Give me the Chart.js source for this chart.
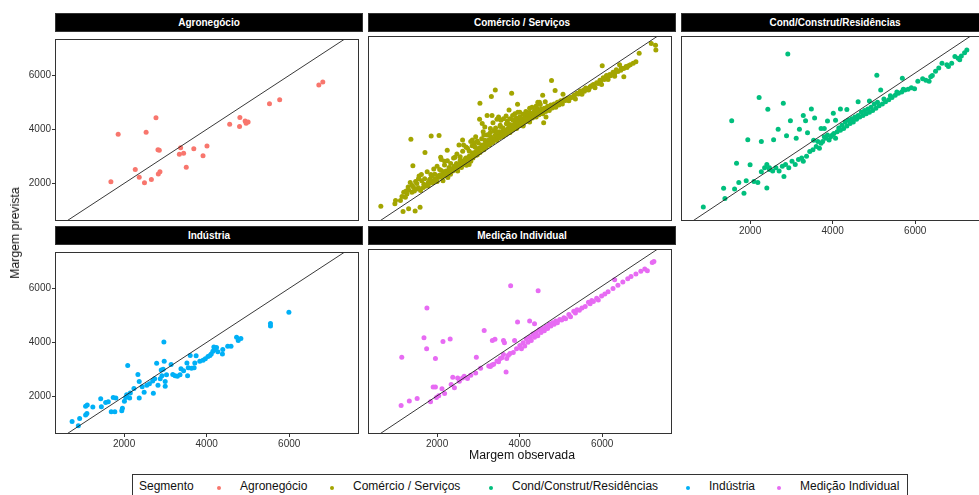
<!DOCTYPE html>
<html>
<head>
<meta charset="utf-8">
<script src="https://cdn.jsdelivr.net/npm/chart.js@4.4.1/dist/chart.umd.min.js"></script>
<style>
  html, body { margin:0; padding:0; background:#fff; }
  body { width:979px; height:495px; overflow:hidden; position:relative;
         font-family:"Liberation Sans", Arial, sans-serif; }
  canvas.painel { position:absolute; }
  .faixa { position:absolute; box-sizing:border-box; width:308px; height:19px;
           background:#000; border:1px solid #333; color:#fff; font-weight:bold;
           font-size:10px; line-height:17px; text-align:center; white-space:nowrap; }
  .titulo { position:absolute; font-size:12.3px; color:#111; white-space:nowrap; }
  #tituloY { left:15px; top:233px; transform:translate(-50%,-50%) rotate(-90deg); }
  #tituloX { left:522px; top:455px; transform:translate(-50%,-50%); }
  #legenda { position:absolute; left:132px; top:474px; width:776px; height:40px;
             box-sizing:border-box; border:1px solid #333; background:#fff; }
  #legenda span { position:absolute; top:4px; font-size:12px; color:#111; white-space:nowrap; }
  #legenda i { position:absolute; top:11px; width:4px; height:4px; border-radius:50%; }
</style>
</head>
<body>
<div id="area"></div>
<div class="titulo" id="tituloY">Margem prevista</div>
<div class="titulo" id="tituloX">Margem observada</div>
<div id="legenda"></div>
<script>
// Segments (facets) and their colours
const segmentos = ['Agronegócio', 'Comércio / Serviços', 'Cond/Construt/Residências', 'Indústria', 'Medição Individual'];
const cores = ['#F8766D', '#A3A500', '#00BF7D', '#00B0F6', '#E76BF3'];
const tituloLegenda = 'Segmento';

// Shared axis ticks and limits (observed on x, predicted on y)
const ticksMargem = [2000, 4000, 6000];
const limitesObservada = [327, 7690];
const limitesPrevista = [610, 7345];
// Reference line: predicted = observed
const diagonal = [[0, 0], [8000, 8000]];

// [margem observada, margem prevista] per client, by segment
const agronegocio = [
  [1681,2060],[1857,3821],[2271,2512],[2367,2226],[2494,2024],[2534,3893],[2661,2143],[2773,4429],
  [2821,3250],[2853,3226],[2829,2345],[2869,2429],[3370,3321],[3339,3083],[3442,3119],[3506,2595],
  [3689,3286],[3912,3024],[4008,3381],[4558,4190],[4805,4440],[4797,4107],[4932,4310],[4956,4226],
  [5004,4274],[5522,4952],[5769,5095],[6717,5643],[6813,5750]
];

const comercioServicos = [
  [638,1143],[978,1238],[994,1357],[1113,1357],[1176,952],[1311,1060],[1469,976],[1588,1107],
  [1192,1655],[1271,1595],[1311,1738],[1350,2012],[1414,2619],[1366,3583],[1430,1833],[1509,1976],
  [1564,2250],[1628,2071],[1707,1893],[1707,3107],[1786,1893],[1826,2131],[1865,2250],[1905,2012],
  [1945,2310],[1857,3702],[2048,3726],[2024,2250],[2063,2488],[2087,2929],[2103,2845],[2143,2071],
  [2182,2786],[2246,3190],[2261,2190],[2325,2310],[2380,2429],[2436,2929],[2499,2548],[2531,3381],
  [2578,2726],[2618,3560],[2642,3381],[2673,2845],[2737,2845],[2776,2667],[2816,3500],[2855,3560],
  [2935,3679],[2974,3524],[3030,4310],[3038,4893],[3093,4155],[3117,3857],[3156,4036],[3212,3738],
  [3212,4452],[3291,3976],[3315,5143],[3331,4452],[3354,4190],[3410,5381],[3418,4000],[3450,4310],
  [3489,4393],[3513,3857],[3545,4274],[3608,4333],[3671,4429],[3703,4250],[3743,4655],[3806,5262],
  [3830,4452],[3885,4512],[3925,4274],[3949,4857],[3956,4571],[4004,4190],[4083,4095],[4107,4333],
  [4162,4512],[4202,4452],[4242,4571],[4360,4631],[4440,4929],[4416,4714],[4558,5190],[4582,4190],
  [4638,4393],[4772,5726],[4859,5357],[5050,5226],[5018,4929],
  [6000,6262],[6420,6298],[6523,5857],[6634,6262],[6816,6405],[6895,6714],[7188,7071],[7291,7012],[7299,6833],
  [1232,1476],[1390,1655],[1509,1774],[1667,1833],[1786,2012],[1905,2071],[2024,2190],[2143,2310],
  [2222,2429],[2301,2488],[2420,2607],[2539,2667],[2618,2786],[2697,2905],[2776,2964],[2855,3083],
  [2935,3143],[3014,3262],[3093,3381],[3172,3440],[3252,3560],[3331,3619],[3410,3738],[3489,3798],
  [3568,3857],[3648,3917],[3727,4000],[3806,4095],[3885,4155],[3964,4238],[4044,4310],[4123,4393],
  [4202,4429],[4281,4512],[4360,4571],[4440,4631],[4519,4690],[4598,4714],[4677,4786],[4757,4833],
  [4836,4869],[4915,4929],[4994,4988],[5073,5024],[5153,5071],[5232,5107],[5311,5167],[5390,5262],
  [5469,5345],[5549,5381],[5628,5429],[5707,5500],[5786,5583],[5865,5643],[5944,5738],[6024,5821],
  [6103,5905],[6182,5940],[6262,6024],[6341,6119],[6460,6179],[6578,6238],
  [2737,3262],[2895,3440],[3133,3738],[3291,3833],[3529,4095],[3766,4333],[4004,4571],[4242,4714],[4479,4929],
  [2499,2429],[2657,2667],[2816,2786],[2974,3024],[3133,3202],[3291,3440],[3450,3560],[3608,3738],
  [3766,3833],[3925,3976],[4083,4071],[4242,4214],[4400,4393],[4558,4512],[4717,4631],[4875,4750],
  [5034,4869],[5192,4988],[5351,5048],[5509,5226],[5667,5381],[5826,5464],[5984,5583],[6142,5762],[6301,5881],
  [1450,1700],[1550,1820],[1600,1720],[1680,1950],[1740,1880],[1820,2100],[1880,1990],[1950,2150],
  [2000,2050],[2060,2280],[2110,2200],[2170,2400],[2200,2260],[2260,2350],[2290,2560],[2340,2420],
  [2390,2540],[2450,2480],[2470,2700],[2520,2600],[2560,2820],[2590,2560],[2630,2700],[2680,2790],
  [2710,2640],[2750,2900],[2790,2860],[2830,2950],[2870,2900],[2900,3060],[2950,3000],[2990,3180],
  [3040,3100],[3070,3300],[3110,3250],[3150,3350],[3190,3300],[3230,3420],[3270,3380],[3310,3520],
  [3350,3470],[3390,3600],[3430,3550],[3470,3680],[3510,3640],[3550,3740],[3590,3690],[3630,3800],
  [3670,3770],[3710,3880],[3750,3840],[3790,3960],[3830,3920],[3870,4040],[3910,4000],[3950,4120],
  [3990,4080],[4030,4200],[4070,4160],[4110,4270],[4150,4230],[4190,4340],[4230,4300],[4270,4400],
  [4310,4360],[4350,4470],[4390,4430],[4430,4520],[4470,4480],[4510,4580],[4550,4540],[4590,4640],
  [4630,4600],[4670,4700],[4710,4660],[4750,4760],[4790,4720],[4830,4800],[4870,4780],[4910,4850],
  [4950,4830],[4990,4900],[5030,4950],[5110,5000],[5170,5040],[5260,5110],[5330,5200],[5420,5230],
  [5480,5300],[5570,5330],[5600,5450],[5680,5420],[5740,5530],[5810,5500],[5900,5620],[5960,5690],
  [6050,5760],[6120,5840],[6200,5900],[6300,5960],[6380,6050],[6450,6100],[6520,6160],[6600,6200],
  [6680,6300],[6750,6350],
  [1150,1500],[1250,1700],[1300,1850],[1400,1900],[1480,2050],[1550,2150],[1620,2300],[1700,2150],
  [1760,2400],[1850,2300],[1920,2500],[2000,2600],[2100,2450],[2180,2650],[2250,2800],[2330,2700],
  [2400,2900],[2480,3050],[2560,2950],[2620,3150],[2700,3300],[2780,3150],[2850,3350],[2920,3300],
  [3000,3450],[3080,3600],[3160,3550],[3240,3750],[3300,3680],[3380,3900],[3460,3850],[3530,4050],
  [3600,4000],[3680,4150],[3760,4120],[3840,4280],[3920,4350],[4000,4400],[4080,4500],[4150,4600],
  [4300,4750],[4400,4800],[4500,4850],[4620,4950]
];

const condConstrutResidencias = [
  [867,1119],[1359,1798],[1391,1429],[1555,4262],[1625,1774],[1672,2714],[1727,2012],[1852,1619],
  [1906,2071],[1945,3571],[2000,2655],[2094,2048],[2219,5107],[2273,3500],[2188,2012],[2406,1810],
  [2430,4679],[2469,2548],[2570,3571],[2680,3952],[2805,4893],[2820,2226],[2883,3714],[2914,6690],
  [2977,4262],[3117,3619],[3195,3952],[3289,4452],[3344,4262],[3391,3821],[3484,4690],[3563,4357],
  [3539,3548],[3719,3976],[3797,3976],[3875,4250],[4016,4536],[4070,4274],[4188,4690],[4344,4667],
  [4617,4952],[4891,4976],[5070,5917],[5164,5381],[5688,5810],[5984,5429],
  [2273,2405],[2352,2548],[2406,2667],[2469,2488],[2547,2429],[2625,2548],[2703,2429],[2781,2607],
  [2859,2667],[2938,2548],[3016,2786],[3094,2667],[3172,2845],[3250,2905],[3289,2786],[3367,2964],
  [3445,3143],[3523,3202],[3602,3321],[3680,3262],[3758,3500],[3836,3619],[3914,3560],[3992,3738],
  [4070,3619],[4109,3857],[4188,3917],[4266,3976],[4344,4071],[4422,4155],[4500,4214],[4578,4310],
  [4656,4393],[4734,4452],[4813,4512],[4891,4571],[4969,4631],[5047,4714],[5125,4810],[5203,4869],
  [5281,4952],[5359,5024],[5438,5107],[5516,5190],[5594,5262],[5672,5310],[5750,5381],[5828,5405],
  [5906,5464],[6180,5786],[6258,5738],[6336,5702],[6375,5857],[6492,6060],[6570,6179],[6648,6357],
  [6805,6238],[6883,6357],[6961,6595],[7039,6536],[7117,6619],[7195,6738],[7250,6833],
  [3641,3500],[3719,3440],[3797,3679],[3875,3738],[3953,3679],[4031,3798],[4148,4000],[4227,4095],
  [4305,4214],[4383,4274],[4461,4333],[4539,4393],[4617,4452],[4695,4571],[4773,4631],[4852,4690],
  [4930,4750],[5008,4869],[5086,4929],[5242,5048],[5398,5167],[5555,5310],[5711,5405],[6063,5702],
  [6414,5905],[6766,6298],[7078,6476]
];

const industria = [
  [741,1077],[892,912],[924,1184],[1068,1314],[1068,1633],[1108,1681],[1100,1373],[1243,1610],
  [1434,1917],[1450,1621],[1554,1775],[1618,1799],[1689,1432],[1737,1965],[1777,1432],[1801,1941],
  [1960,1562],[1944,1468],[2008,1823],[2040,1965],[2088,3148],[2064,2059],[2135,1941],[2151,2130],
  [2239,2296],[2335,2816],[2367,1941],[2367,2556],[2438,2355],[2486,2154],[2550,2414],[2614,2473],
  [2693,2568],[2709,2118],[2741,2651],[2789,3230],[2821,2414],[2876,2651],[2900,2982],[2916,2769],
  [2948,3006],[2964,4011],[2972,3301],[2996,2556],[2996,2379],[3028,2804],[3139,3183],[3179,2816],
  [3235,2769],[3291,2745],[3355,2804],[3378,3029],[3442,2946],[3522,3242],[3538,2769],[3554,3065],
  [3602,3514],[3633,3041],[3697,3065],[3713,3242],[3745,3502],[3833,3301],[3912,3337],[3968,3396],
  [4032,3479],[4080,3514],[4112,3573],[4151,3668],[4175,3834],[4207,3739],[4239,3810],[4271,3656],
  [4390,3739],[4382,3573],[4510,3857],[4590,3857],[4725,4189],[4765,4070],[4829,4141],[5546,4697],
  [5546,4603],[5992,5111]
];

const medicaoIndividual = [
  [1129,1645],[1327,1811],[1517,1905],[1145,3408],[1683,4118],[1747,3715],[1754,5194],[1960,3360],
  [2143,3976],[2317,4070],[2951,3408],[3141,4378],[3339,4011],[3402,4058],[3608,4011],[3632,3928],
  [3782,6010],[3877,4011],[3949,4685],[4242,4721],[4360,4626],[4448,5821],[3671,2864],
  [1842,1787],[1905,2319],[1960,2319],[1984,1941],[2040,2000],[2119,2260],[2182,2083],[2341,2414],
  [2380,2674],[2420,2296],[2499,2651],[2539,2532],[2618,2651],[2657,2710],[2737,2627],[2816,2745],
  [2935,2828],[3054,3006],[3252,3088],[3331,3124],[3450,3266],[3529,3360],[3608,3502],[3727,3479],
  [3846,3573],[3925,3715],[4004,3834],[4083,3928],[4162,4070],[4242,4129],[4321,4248],[4400,4307],
  [4479,4401],[4558,4449],[4638,4520],[4717,4603],[4796,4662],[4875,4721],[4970,4780],[5073,4839],
  [5192,4958],[5311,5076],[5390,5135],[5509,5194],[5667,5407],[5747,5466],[5865,5549],[5984,5632],
  [6142,5786],[6261,5904],[6301,6223],[6380,6022],[6499,6141],[6618,6259],[6697,6342],[6816,6436],
  [6935,6531],[7030,6614],[7093,6555],[7212,6850],[7252,6886],
  [4044,3715],[4123,3810],[4202,3952],[4281,4011],[4360,4129],[4440,4189],[4519,4307],[4598,4366],
  [4677,4449],[4757,4543],[4836,4603],[4915,4662],[5018,4756],[5113,4804],[5232,4875],[5351,5017],
  [5446,5111],[5588,5253],[5707,5348],[5786,5431],[5905,5490],[6063,5703],
  [3291,3065],[3370,3148],[3489,3242],[3568,3384],[3687,3360],[3766,3538]
];

const dadosSegmento = [agronegocio, comercioServicos, condConstrutResidencias, industria, medicaoIndividual];

// Facet grid: plot-area position and which axes carry tick labels
const LARGURA = 308, ALTURA = 189, EIXO_Y = 54, EIXO_X = 20;
const grade = [
  { left: 55,  top: 32,  tickX: false, tickY: true  },
  { left: 368, top: 32,  tickX: false, tickY: false },
  { left: 681, top: 32,  tickX: true,  tickY: false },
  { left: 55,  top: 245, tickX: true,  tickY: true  },
  { left: 368, top: 245, tickX: true,  tickY: false }
];

const fonteTick = { family: '"Liberation Sans", Arial, sans-serif', size: 10 };

// Panel frame drawn around the plotting area
const moldura = {
  id: 'moldura',
  afterDraw(chart) {
    const { ctx, chartArea: a } = chart;
    ctx.save();
    ctx.strokeStyle = '#333';
    ctx.lineWidth = 1;
    ctx.strokeRect(Math.round(a.left) + 0.5, Math.round(a.top) + 0.5,
                   Math.round(a.right - a.left) - 1, Math.round(a.bottom - a.top) - 1);
    ctx.restore();
  }
};

function eixo(limites, mostrarTicks, fixar) {
  return {
    type: 'linear',
    min: limites[0],
    max: limites[1],
    afterBuildTicks: s => { s.ticks = ticksMargem.map(v => ({ value: v })); },
    afterFit: fixar,
    border: { display: false },
    grid: { display: mostrarTicks, drawOnChartArea: false, drawTicks: true, tickLength: 3, color: '#333', lineWidth: 1 },
    ticks: { display: mostrarTicks, color: '#333', font: fonteTick, padding: 1, maxRotation: 0,
             autoSkip: false, callback: v => String(v) }
  };
}

const area = document.getElementById('area');
grade.forEach((g, i) => {
  const canvas = document.createElement('canvas');
  canvas.className = 'painel';
  canvas.width = LARGURA + EIXO_Y;
  canvas.height = ALTURA + EIXO_X;
  canvas.style.left = (g.left - EIXO_Y) + 'px';
  canvas.style.top = g.top + 'px';
  area.appendChild(canvas);

  new Chart(canvas, {
    type: 'scatter',
    data: {
      datasets: [
        {
          data: diagonal.map(([x, y]) => ({ x, y })),
          showLine: true, borderColor: '#222', borderWidth: 0.9,
          pointRadius: 0, order: 0
        },
        {
          data: dadosSegmento[i].map(([x, y]) => ({ x, y })),
          backgroundColor: cores[i], borderWidth: 0,
          pointRadius: 2.5, order: 1
        }
      ]
    },
    options: {
      responsive: false,
      animation: false,
      layout: { padding: 0 },
      plugins: { legend: { display: false }, tooltip: { enabled: false } },
      scales: {
        x: eixo(limitesObservada, g.tickX, s => { s.height = EIXO_X; }),
        y: eixo(limitesPrevista, g.tickY, s => { s.width = EIXO_Y; })
      }
    },
    plugins: [moldura]
  });

  const faixa = document.createElement('div');
  faixa.className = 'faixa';
  faixa.textContent = segmentos[i];
  faixa.style.left = g.left + 'px';
  faixa.style.top = (g.top - 19) + 'px';
  area.appendChild(faixa);
});

// Legend row
const legenda = document.getElementById('legenda');
const posTexto = [107, 220, 379, 576, 667];
const rotulo = document.createElement('span');
rotulo.textContent = tituloLegenda;
rotulo.style.left = '6px';
legenda.appendChild(rotulo);
segmentos.forEach((s, i) => {
  const ponto = document.createElement('i');
  ponto.style.background = cores[i];
  ponto.style.left = (posTexto[i] - 23) + 'px';
  legenda.appendChild(ponto);
  const t = document.createElement('span');
  t.textContent = s;
  t.style.left = posTexto[i] + 'px';
  legenda.appendChild(t);
});
</script>
</body>
</html>
